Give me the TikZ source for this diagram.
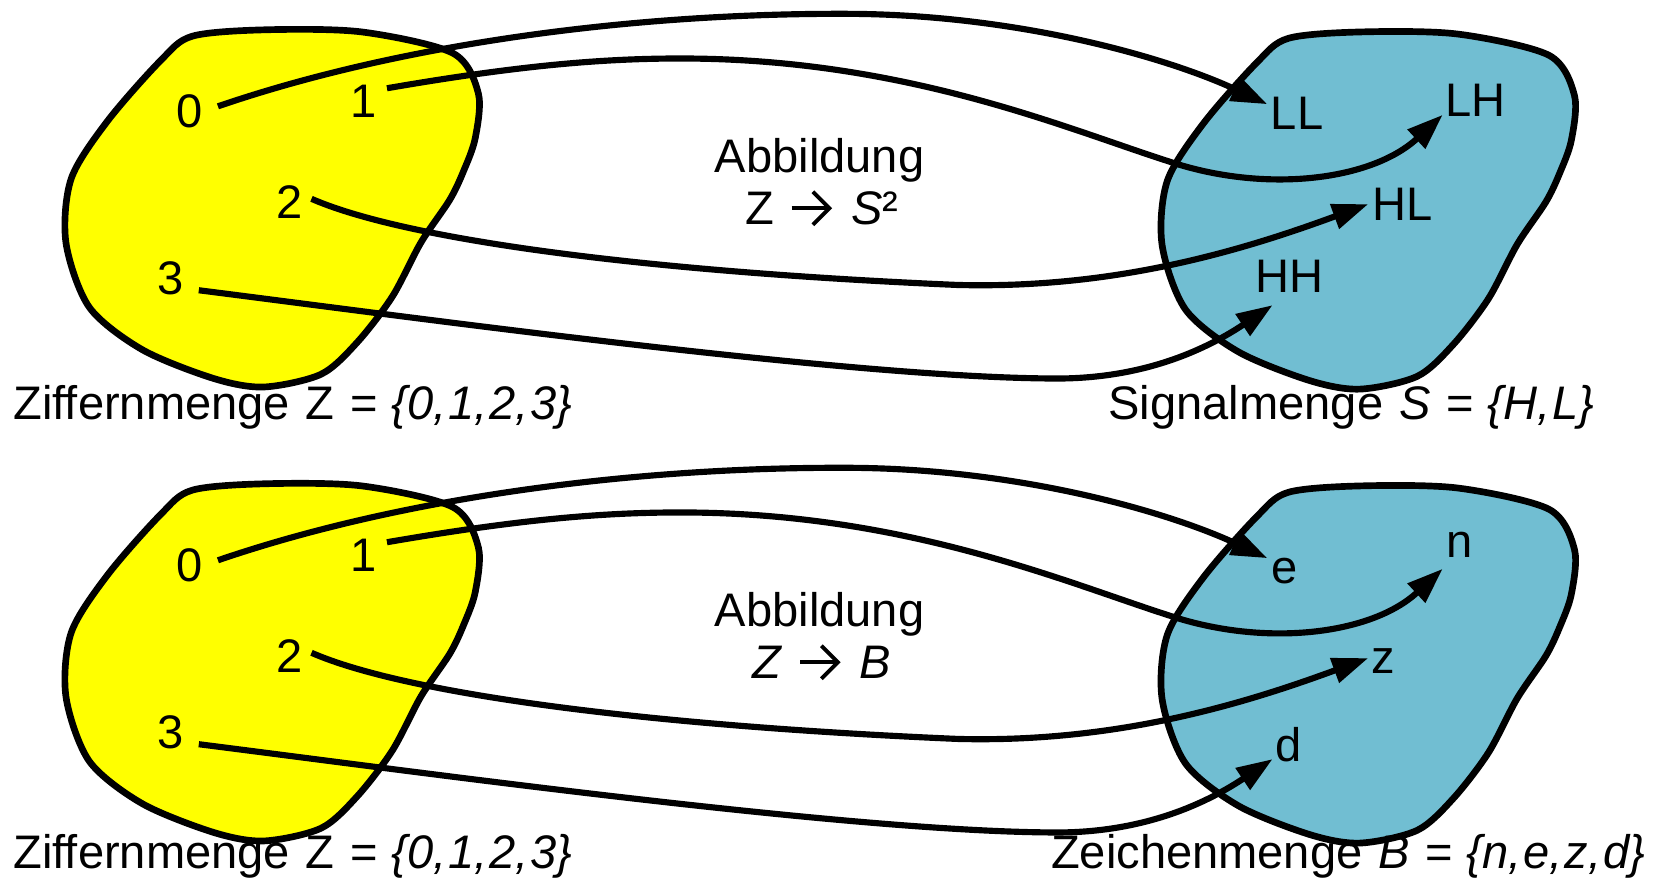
\documentclass[tikz,border=0pt]{standalone}
\usepackage{fontspec}
\setmainfont{Liberation Sans}
\usetikzlibrary{arrows.meta}
\definecolor{setyellow}{RGB}{255,255,0}
\definecolor{setblue}{RGB}{113,190,210}

% outline of one set (a rounded, slightly irregular blob)
\def\blobpath{plot[smooth cycle] coordinates {(181,34) (250,28) (340,30) (426,50) (450,88) (447,130) (436,161) (423,188) (396,228) (369,279) (336,322) (302,352) (248,364) (201,356) (134,329) (84,289) (62,228) (67,168) (101,114) (151,57)}}

% open-headed mapping arrow used inside text
\newcommand{\zarrow}{\tikz[baseline=0pt]{%
  \draw[line width=1.1pt, line join=miter] (0em,0.34em) -- (0.80em,0.34em);
  \draw[line width=1.1pt, line join=miter] (0.45em,0.69em) -- (0.80em,0.34em) -- (0.45em,-0.01em);}}
\newcommand{\wsp}{\hspace{0.34em}}
\newcommand{\csep}{,\kern0.04em}

\begin{document}
\begin{tikzpicture}[x=0.010631cm, y=-0.010631cm,
  font=\fontsize{13.4pt}{16pt}\selectfont,
  blob/.style={line width=1.9pt, draw=black, line join=round},
  mapline/.style={line width=1.75pt, -{Triangle[length=0.36cm,width=0.25cm]}},
  elem/.style={inner sep=0pt, anchor=center},
  caption/.style={inner sep=0pt}]

\useasboundingbox (0,0) rectangle (1568,829);

% ---------- upper panel: Z -> S^2 ----------
\begin{scope}
  \filldraw[blob, fill=setyellow] \blobpath;
  \begin{scope}[shift={(1031,2)}]
    \filldraw[blob, fill=setblue] \blobpath;
  \end{scope}

  \node[elem] (t0) at (178,105) {0};
  \node[elem] (t1) at (342,95) {1};
  \node[elem] (t2) at (272,190) {2};
  \node[elem] (t3) at (160,262) {3};
  \node[elem] (tLL) at (1220,107) {LL};
  \node[elem] (tLH) at (1388,94) {LH};
  \node[elem] (tHL) at (1319,192) {HL};
  \node[elem] (tHH) at (1213,260) {HH};

  \draw[mapline] ([shift={(27,-5)}]t0.center) .. controls (380,40) and (600,12) .. (800,13)
     .. controls (960,14) and (1100,55) .. ([shift={(-28,-9)}]tLL.center);
  \draw[mapline] ([shift={(22,-12)}]t1.center) .. controls (480,63) and (560,55) .. (640,55)
     .. controls (850,55) and (1000,120) .. (1100,152)
     .. controls (1190,182) and (1290,170) .. ([shift={(-31,14)}]tLH.center);
  \draw[mapline] ([shift={(21,-3)}]t2.center) .. controls (380,225) and (600,255) .. (900,268)
     .. controls (1050,272) and (1170,235) .. ([shift={(-32,0)}]tHL.center);
  \draw[mapline] ([shift={(27,11)}]t3.center) .. controls (400,300) and (800,355) .. (990,356)
     .. controls (1080,357) and (1140,325) .. ([shift={(-16,27)}]tHH.center);

  \node[caption, anchor=base] (tmap1) at (771,162) {Abbildung};
  \node[caption, anchor=base] (tmap2) at (773,211) {Z\hspace{0.33em}\zarrow\hspace{0.42em}\textit{S}²};
  \node[caption, anchor=base west] (tleft) at (12,395)
    {Ziffernmenge\wsp Z\wsp=\hspace{0.28em}\textit{\{0\csep 1\csep 2\csep 3\}}};
  \node[caption, anchor=base east] (tright) at (1500,395)
    {Signalmenge\wsp\textit{S}\wsp=\hspace{0.28em}\textit{\{H\csep L\}}};
\end{scope}

% ---------- lower panel: Z -> B ----------
\begin{scope}[shift={(0,427)}]
  \filldraw[blob, fill=setyellow] \blobpath;
  \begin{scope}[shift={(1031,2)}]
    \filldraw[blob, fill=setblue] \blobpath;
  \end{scope}

  \node[elem] (b0) at (178,105) {0};
  \node[elem] (b1) at (342,95) {1};
  \node[elem] (b2) at (272,190) {2};
  \node[elem] (b3) at (160,262) {3};
  \node[elem] (be) at (1208,110) {e};
  \node[elem] (bn) at (1373,85) {n};
  \node[elem] (bz) at (1301,195) {z};
  \node[elem] (bd) at (1212,273) {d};

  \draw[mapline] ([shift={(27,-5)}]b0.center) .. controls (380,40) and (600,12) .. (800,13)
     .. controls (960,14) and (1100,55) .. ([shift={(-16,-12)}]be.center);
  \draw[mapline] ([shift={(22,-12)}]b1.center) .. controls (480,63) and (560,55) .. (640,55)
     .. controls (850,55) and (1000,120) .. (1100,152)
     .. controls (1190,182) and (1290,170) .. ([shift={(-16,23)}]bn.center);
  \draw[mapline] ([shift={(21,-3)}]b2.center) .. controls (380,225) and (600,255) .. (900,268)
     .. controls (1050,272) and (1170,235) .. ([shift={(-14,-3)}]bz.center);
  \draw[mapline] ([shift={(27,11)}]b3.center) .. controls (400,300) and (800,355) .. (990,356)
     .. controls (1080,357) and (1140,325) .. ([shift={(-15,14)}]bd.center);

  \node[caption, anchor=base] (bmap1) at (771,162) {Abbildung};
  \node[caption, anchor=base] (bmap2) at (773,211) {\textit{Z}\hspace{0.33em}\zarrow\hspace{0.42em}\textit{B}};
  \node[caption, anchor=base west] (bleft) at (12,390)
    {Ziffernmenge\wsp Z\wsp=\hspace{0.28em}\textit{\{0\csep 1\csep 2\csep 3\}}};
  \node[caption, anchor=base east] (bright) at (1548,390)
    {Zeichenmenge\wsp\textit{B}\wsp=\hspace{0.28em}\textit{\{n\csep e\csep z\csep d\}}};
\end{scope}
\end{tikzpicture}
\end{document}
